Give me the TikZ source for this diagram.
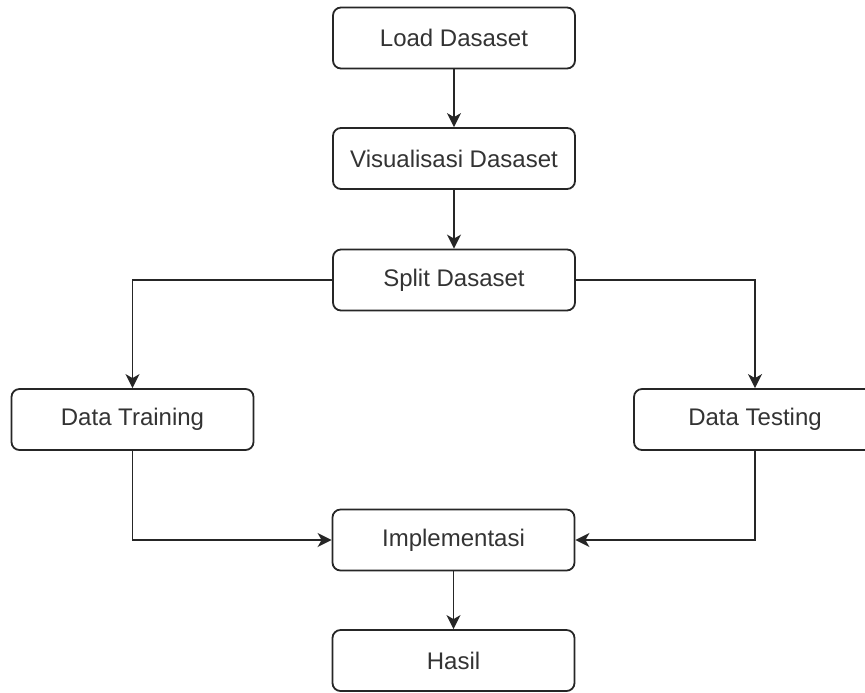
\documentclass[tikz,border=0pt]{standalone}
\usepackage{fontspec}
\setmainfont{Liberation Sans}
\usetikzlibrary{arrows.meta, positioning}

\tikzset{
  stepbox/.style={draw=black!85, line width=0.9pt, rounded corners=4pt, fill=white,
    minimum width=121pt, minimum height=30.5pt, inner sep=0pt,
    text=black!80, font=\fontsize{12}{14}\selectfont},
  flow/.style={draw=black!85, line width=0.9pt, -{Stealth[length=7pt,width=7pt,inset=2pt]}}
}

\begin{document}
\begin{tikzpicture}[x=0.5pt, y=-0.5pt]
\useasboundingbox (0,0) rectangle (865,692);

\node[stepbox] (load)  at (454, 38)    {Load Dasaset};
\node[stepbox] (vis)   at (454, 158.5) {Visualisasi Dasaset};
\node[stepbox] (split) at (454, 280)   {Split Dasaset};
\node[stepbox] (train) at (132.5, 419.5) {Data Training};
\node[stepbox] (test)  at (755, 419.5) {Data Testing}; % cut off at right edge
\node[stepbox] (impl)  at (453.5, 540) {Implementasi};
\node[stepbox] (hasil) at (453.5, 660.5) {Hasil};

\draw[flow] (load) -- (vis);
\draw[flow] (vis) -- (split);
\draw[flow] (split.west) -| (train); % kiri
\draw[flow] (split.east) -| (test);  % kanan
\draw[flow] (train) |- (impl);
\draw[flow] (test) |- (impl);
\draw[flow] (impl) -- (hasil);
\end{tikzpicture}
\end{document}
